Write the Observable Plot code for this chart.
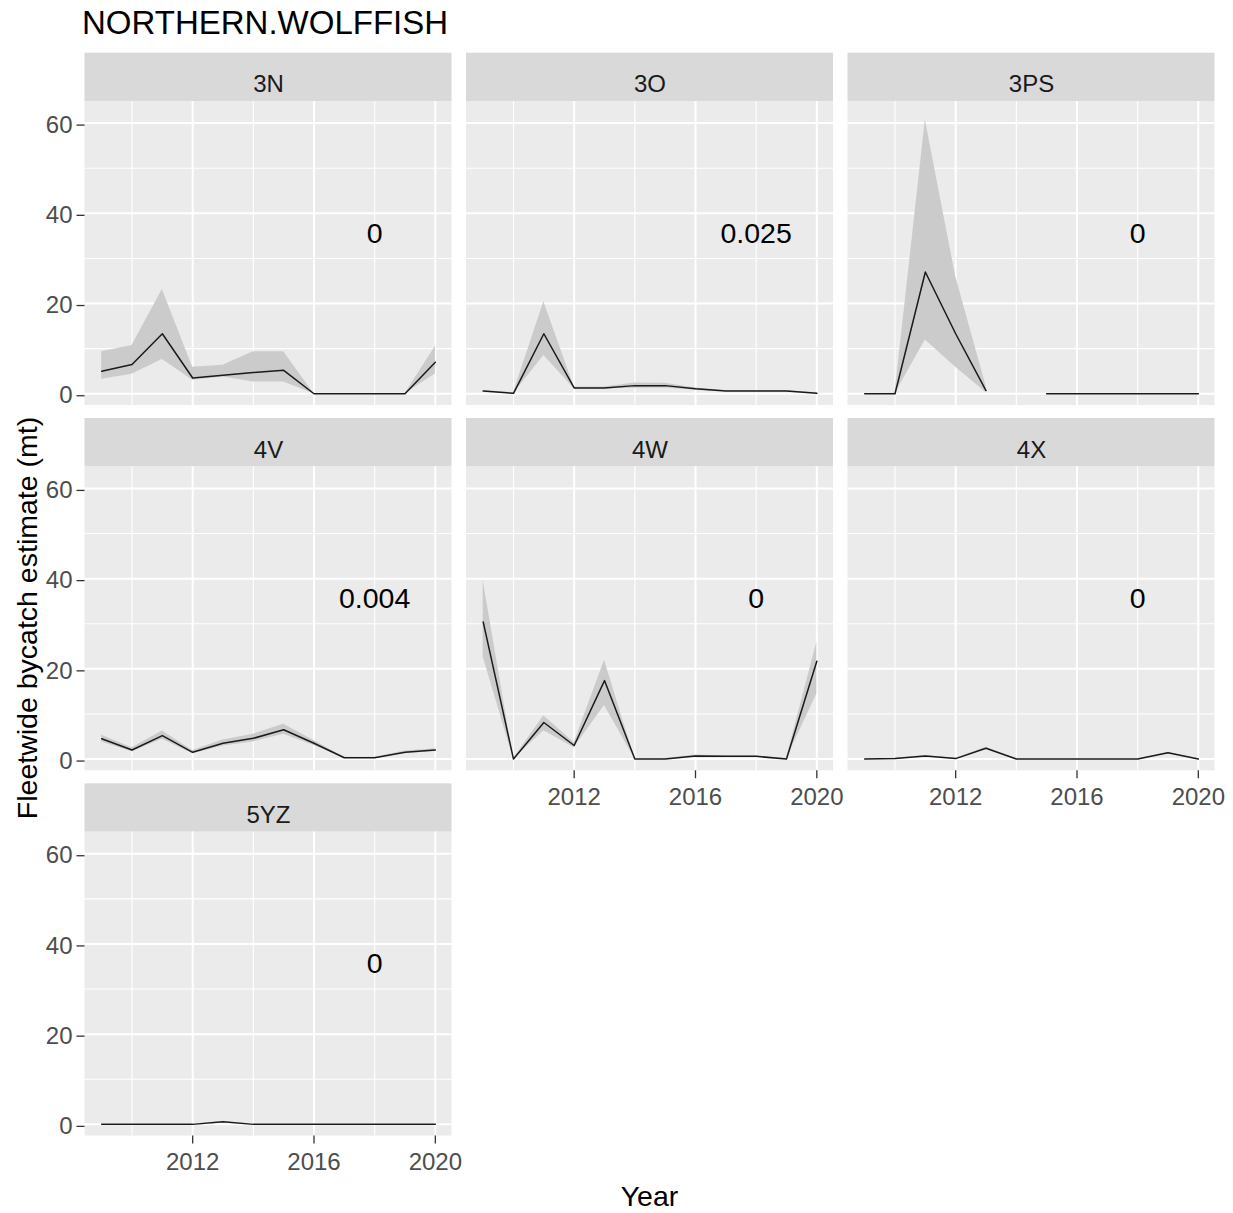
<!DOCTYPE html>
<html>
<head>
<meta charset="utf-8">
<script src="https://cdn.jsdelivr.net/npm/d3@7"></script>
<script src="https://cdn.jsdelivr.net/npm/@observablehq/plot@0.6"></script>
<style>
  html, body { margin: 0; padding: 0; background: #ffffff; }
  body { font-family: "Liberation Sans", Arial, Helvetica, sans-serif; }
  #wrap { position: relative; width: 1233px; height: 1213px; overflow: hidden; }
  #title { height: 45px; box-sizing: border-box; padding-top: 6.4px; padding-left: 82px;
           font-size: 33px; line-height: 33px; color: #000; white-space: nowrap; }
  #chart { height: 1168px; }
  #xlab { position: absolute; left: 649.5px; top: 1181.9px; transform: translateX(-50%);
          font-size: 28.5px; line-height: 28.5px; color: #000; white-space: nowrap; }
  #ylab { position: absolute; left: 26.85px; top: 618px; transform: translate(-50%, -50%) rotate(-90deg);
          font-size: 28.5px; line-height: 28.5px; color: #000; white-space: nowrap; }
</style>
</head>
<body>
<div id="wrap">
  <div id="title">NORTHERN.WOLFFISH</div>
  <div id="chart"></div>
  <div id="xlab">Year</div>
  <div id="ylab">Fleetwide bycatch estimate (mt)</div>
</div>
<script>
// ---------------- data ----------------
const years = [2009, 2010, 2011, 2012, 2013, 2014, 2015, 2016, 2017, 2018, 2019, 2020];
const regions = ["3N", "3O", "3PS", "4V", "4W", "4X", "5YZ"];
const panelLabels = ["0", "0.025", "0", "0.004", "0", "0", "0"];

const est3N = [5.0, 6.5, 13.3, 3.5, 4.1, 4.7, 5.2, 0, 0, 0, 0, 7.0];
const lo3N  = [3.2, 4.3, 7.6, 3.0, 3.7, 2.6, 2.6, 0, 0, 0, 0, 4.4];
const hi3N  = [9.3, 10.7, 23.1, 5.9, 6.3, 9.3, 9.3, 0, 0, 0, 0, 10.5];

const est3O = [0.6, 0.1, 13.3, 1.3, 1.3, 1.8, 1.8, 1.1, 0.6, 0.6, 0.6, 0.1];
const lo3O  = [0.5, 0.0, 8.5, 1.1, 1.1, 1.2, 1.3, 0.8, 0.5, 0.5, 0.5, 0.0];
const hi3O  = [0.7, 0.2, 20.4, 1.5, 1.5, 2.4, 2.3, 1.3, 0.7, 0.7, 0.7, 0.2];

const est3PS = [0, 0, 27.0, 13.3, 0.7, null, 0, 0, 0, 0, 0, 0];
const lo3PS  = [0, 0, 11.9, 5.9, 0.3, null, 0, 0, 0, 0, 0, 0];
const hi3PS  = [0, 0.1, 60.7, 26.0, 1.8, null, 0, 0, 0, 0, 0, 0];

const est4V = [4.5, 2.0, 5.2, 1.5, 3.5, 4.6, 6.5, 3.5, 0.3, 0.3, 1.5, 2.0];
const lo4V  = [3.8, 1.6, 4.4, 1.2, 2.9, 3.8, 5.5, 3.0, 0.2, 0.2, 1.2, 1.7];
const hi4V  = [5.3, 2.5, 6.2, 1.9, 4.2, 5.5, 7.7, 4.1, 0.4, 0.4, 1.8, 2.3];

const est4W = [30.4, 0, 8.1, 3.0, 17.4, 0, 0, 0.7, 0.6, 0.6, 0, 21.7];
const lo4W  = [22.6, 0, 6.3, 2.5, 11.9, 0, 0, 0.5, 0.5, 0.5, 0, 14.4];
const hi4W  = [39.6, 0.1, 9.6, 3.6, 21.9, 0, 0.1, 0.9, 0.7, 0.7, 0.1, 25.9];

const est4X = [0, 0.1, 0.7, 0.1, 2.4, 0, 0, 0, 0, 0, 1.4, 0];
const lo4X  = [0, 0.0, 0.6, 0.0, 2.2, 0, 0, 0, 0, 0, 1.3, 0];
const hi4X  = [0, 0.2, 0.8, 0.2, 2.6, 0, 0, 0, 0, 0, 1.5, 0];

const est5YZ = [0, 0, 0, 0, 0.6, 0, 0, 0, 0, 0, 0, 0];
const lo5YZ  = [0, 0, 0, 0, 0.5, 0, 0, 0, 0, 0, 0, 0];
const hi5YZ  = [0, 0, 0, 0, 0.7, 0, 0, 0, 0, 0, 0, 0];

const xMajorTicks = [2012, 2016, 2020];
const xMinorTicks = [2010, 2014, 2018];
const yMajorTicks = [0, 20, 40, 60];
const yMinorTicks = [10, 30, 50];

// ---------------- build tables ----------------
const seriesEst = [est3N, est3O, est3PS, est4V, est4W, est4X, est5YZ];
const seriesLo  = [lo3N, lo3O, lo3PS, lo4V, lo4W, lo4X, lo5YZ];
const seriesHi  = [hi3N, hi3O, hi3PS, hi4V, hi4W, hi4X, hi5YZ];

const panels = regions.map((r, i) => ({region: r, label: panelLabels[i], col: i % 3, row: Math.floor(i / 3)}));
const rows = [];
regions.forEach((r, i) => {
  years.forEach((yr, j) => {
    rows.push({
      region: r, col: i % 3, row: Math.floor(i / 3), year: yr,
      est: seriesEst[i][j], lo: seriesLo[i][j], hi: seriesHi[i][j]
    });
  });
});

// ---------------- layout constants ----------------
const xDomain = [2008.45, 2020.55];   // ggplot 5% expansion
const yDomain = [-2.6, 75.5];         // panel + strip
const panelTop = 64.8;                // top of the grey panel (strip above)
const annX = 2018, annY = 35.5;

const font = '"Liberation Sans", Arial, Helvetica, sans-serif';

const chart = Plot.plot({
  width: 1233,
  height: 1168,
  marginLeft: 84.5,
  marginRight: 18.5,
  marginTop: 7.7,
  marginBottom: 77.4,
  style: {fontFamily: font, fontSize: "24px", background: "#ffffff", overflow: "visible"},
  x: {domain: xDomain, axis: null},
  y: {domain: yDomain, axis: null},
  fx: {domain: [0, 1, 2], axis: null, paddingInner: 0.038, paddingOuter: 0, round: false},
  fy: {domain: [0, 1, 2], axis: null, paddingInner: 0.0357, paddingOuter: 0, round: false},
  marks: [
    // panel background
    Plot.rect(panels, {fx: "col", fy: "row", x1: () => xDomain[0], x2: () => xDomain[1],
      y1: () => yDomain[0], y2: () => panelTop, fill: "#EBEBEB"}),
    // strip background
    Plot.rect(panels, {fx: "col", fy: "row", x1: () => xDomain[0], x2: () => xDomain[1],
      y1: () => panelTop, y2: () => yDomain[1], fill: "#D9D9D9"}),
    // minor grid
    Plot.ruleY(yMinorTicks, {stroke: "#ffffff", strokeWidth: 1.1}),
    Plot.ruleX(xMinorTicks, {y1: yDomain[0], y2: panelTop, stroke: "#ffffff", strokeWidth: 1.1}),
    // major grid
    Plot.ruleY(yMajorTicks, {stroke: "#ffffff", strokeWidth: 2}),
    Plot.ruleX(xMajorTicks, {y1: yDomain[0], y2: panelTop, stroke: "#ffffff", strokeWidth: 2}),
    // ribbon
    Plot.areaY(rows, {fx: "col", fy: "row", x: "year", y1: "lo", y2: "hi", z: "region", fill: "#CBCBCB"}),
    // estimate line
    Plot.line(rows, {fx: "col", fy: "row", x: "year", y: "est", z: "region", stroke: "#1a1a1a", strokeWidth: 1.5}),
    // annotation
    Plot.text(panels, {fx: "col", fy: "row", x: () => annX, y: () => annY, text: "label",
      fontSize: 28.5, fill: "#000000"}),
    // strip label
    Plot.text(panels, {fx: "col", fy: "row", text: "region", frameAnchor: "top", dy: 39,
      lineAnchor: "bottom", fontSize: 24, fill: "#1A1A1A"}),
    // axes
    Plot.axisX(xMajorTicks, {tickSize: 8, tickPadding: 9, stroke: "#333333", strokeWidth: 1.3,
      fill: "#4D4D4D", label: null, fontSize: 24, tickFormat: (d) => String(d)}),
    Plot.axisY(yMajorTicks, {tickSize: 8, tickPadding: 4.5, stroke: "#333333", strokeWidth: 1.3,
      fill: "#4D4D4D", label: null, fontSize: 24, dy: 2, tickFormat: (d) => String(d)})
  ]
});
document.getElementById("chart").appendChild(chart);
</script>
</body>
</html>
